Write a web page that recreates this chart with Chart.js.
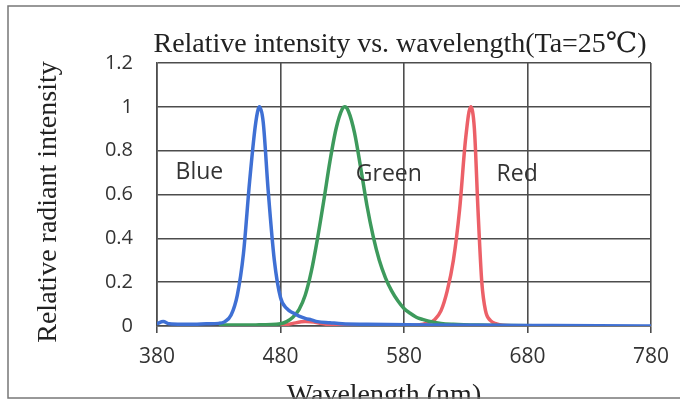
<!DOCTYPE html>
<html>
<head>
<meta charset="utf-8">
<script src="https://cdn.jsdelivr.net/npm/chart.js@4/dist/chart.umd.min.js"></script>
<style>
html,body{margin:0;padding:0;background:#fff;}
#wrap{width:680px;height:409px;position:relative;}
</style>
</head>
<body>
<div id="wrap"><canvas id="c" width="680" height="409"></canvas></div>
<script>
// ---- data ----
const xTicks = [380, 480, 580, 680, 780];
const yTicks = [0, 0.2, 0.4, 0.6, 0.8, 1, 1.2];

const blueNm  = [380, 385, 390, 400, 410, 420, 430, 435, 440, 445, 450, 455, 460, 463, 466, 470, 475, 480, 485, 490, 495, 500, 505, 510, 520, 530, 550, 600, 650, 700, 780];
const blueVal = [0.01, 0.02, 0.01, 0.008, 0.008, 0.01, 0.012, 0.02, 0.05, 0.14, 0.33, 0.66, 0.93, 1.0, 0.93, 0.62, 0.3, 0.13, 0.08, 0.06, 0.045, 0.035, 0.028, 0.02, 0.015, 0.01, 0.008, 0.005, 0.003, 0.002, 0.0];

const greenNm  = [430, 460, 480, 485, 490, 495, 500, 505, 510, 515, 520, 525, 530, 532, 535, 540, 545, 550, 555, 560, 565, 570, 575, 580, 585, 590, 595, 600, 610, 620, 640, 660, 700];
const greenVal = [0.004, 0.005, 0.01, 0.02, 0.04, 0.075, 0.14, 0.25, 0.4, 0.57, 0.75, 0.9, 0.99, 1.0, 0.98, 0.88, 0.72, 0.55, 0.41, 0.3, 0.22, 0.16, 0.115, 0.08, 0.058, 0.04, 0.03, 0.022, 0.012, 0.008, 0.004, 0.002, 0.0];

const redNm  = [480, 490, 500, 510, 520, 530, 560, 590, 600, 605, 610, 615, 620, 625, 630, 634, 637, 640, 643, 646, 650, 655, 660, 670];
const redVal = [0.0, 0.012, 0.02, 0.015, 0.005, 0.0, 0.0, 0.004, 0.015, 0.03, 0.07, 0.16, 0.3, 0.53, 0.86, 1.0, 0.9, 0.52, 0.2, 0.07, 0.025, 0.01, 0.003, 0.0];

const seriesNames = ["Blue", "Green", "Red"];
const labelNm  = [395, 541, 655];
const labelVal = [0.7, 0.69, 0.69];

const chartTitle = "Relative intensity vs. wavelength(Ta=25\u2103)";
const xTitle = "Wavelength (nm)";
const yTitle = "Relative radiant intensity";

function pts(xs, ys){ return xs.map((x,i)=>({x:x, y:ys[i]})); }

const colors = ["#3f70d4", "#3d9a5c", "#ec6068"];
const SERIF = '28px "Liberation Serif", "DejaVu Serif", serif';
const SANS = '"Open Sans", "Noto Sans", sans-serif';

const decor = {
  id: 'decor',
  beforeDraw(chart){
    const ctx = chart.ctx;
    ctx.save();
    ctx.fillStyle = '#ffffff';
    ctx.fillRect(0,0,chart.width,chart.height);
    ctx.restore();
  },
  afterDraw(chart){
    const ctx = chart.ctx;
    const xs = chart.scales.x, ys = chart.scales.y;
    ctx.save();
    // series labels
    ctx.fillStyle = '#333333';
    ctx.font = '23px ' + SANS;
    ctx.textAlign = 'left';
    ctx.textBaseline = 'middle';
    seriesNames.forEach((n,i)=>{
      ctx.fillText(n, xs.getPixelForValue(labelNm[i]), ys.getPixelForValue(labelVal[i]));
    });
    // chart title
    ctx.fillStyle = '#222222';
    ctx.font = SERIF;
    ctx.textAlign = 'center';
    ctx.textBaseline = 'alphabetic';
    ctx.fillText(chartTitle, 400, 52);
    // x title (clipped by the frame line, as in the scan)
    ctx.save();
    ctx.beginPath();
    ctx.rect(0, 0, chart.width, 399);
    ctx.clip();
    ctx.fillText(xTitle, 384, 403);
    ctx.restore();
    // y title
    ctx.save();
    ctx.translate(56, 202);
    ctx.rotate(-Math.PI/2);
    ctx.fillText(yTitle, 0, 0);
    ctx.restore();
    // outer frame
    ctx.strokeStyle = '#777777';
    ctx.lineWidth = 1.5;
    ctx.strokeRect(8, 6, 700, 392);
    ctx.restore();
  }
};

new Chart(document.getElementById('c'), {
  type: 'scatter',
  data: {
    datasets: [
      {label:'Blue',  data: pts(blueNm, blueVal)},
      {label:'Green', data: pts(greenNm, greenVal)},
      {label:'Red',   data: pts(redNm, redVal)}
    ].map((d,i)=>Object.assign(d, {
      showLine: true, borderColor: colors[i], backgroundColor: colors[i],
      borderWidth: 3.5, pointRadius: 0, cubicInterpolationMode: 'monotone', fill: false
    }))
  },
  options: {
    responsive: false,
    animation: false,
    events: [],
    layout: {padding: {top: 63, right: 29, bottom: 0, left: 0}},
    plugins: {legend: {display: false}, tooltip: {enabled: false}, title: {display: false}},
    scales: {
      x: {
        type: 'linear', min: 380, max: 780,
        afterBuildTicks(s){ s.ticks = xTicks.map(v=>({value:v})); },
        afterFit(s){ s.height = 83; },
        grid: {color: '#4d4d4d', lineWidth: 1.6, drawTicks: true, tickLength: 7, tickColor: '#4d4d4d'},
        border: {display: true, color: '#4d4d4d', width: 1.6},
        ticks: {color: '#333333', font: {family: SANS, size: 21}, padding: 11, maxRotation: 0}
      },
      y: {
        min: 0, max: 1.2,
        afterBuildTicks(s){ s.ticks = yTicks.map(v=>({value:v})); },
        afterFit(s){ s.width = 157; },
        grid: {color: '#4d4d4d', lineWidth: 1.6, drawTicks: false},
        border: {display: true, color: '#4d4d4d', width: 1.6},
        ticks: {color: '#333333', font: {family: SANS, size: 20}, padding: 24,
                callback: v => String(v)}
      }
    }
  },
  plugins: [decor]
});
</script>
</body>
</html>
